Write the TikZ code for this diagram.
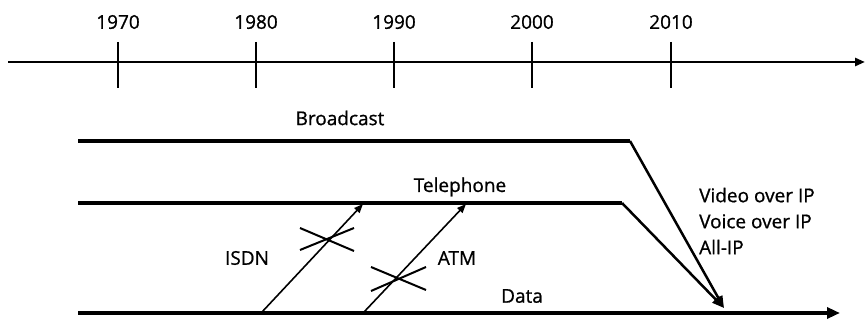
\documentclass[tikz,border=0pt]{standalone}
\usepackage{fontspec}
\setmainfont{Open Sans}
\newfontfamily\lblfont{Open Sans}[FakeBold=0.9]
\usetikzlibrary{arrows.meta}
\begin{document}
\begin{tikzpicture}[x=1pt,y=-1pt,
  lbl/.style={font=\lblfont\fontsize{19}{22}\selectfont, inner sep=0pt},
  thickline/.style={line width=3.2pt},
  axisline/.style={line width=2.6pt},
  tickline/.style={line width=1.5pt},
  thinarrow/.style={line width=1.6pt, -{Triangle[length=9pt,width=7pt]}},
  merge/.style={line width=2.5pt, -{Triangle[length=12pt,width=9pt]}},
  crossline/.style={line width=2pt}]
\useasboundingbox (0,0) rectangle (865,320);

% time axis
\coordinate (ax0) at (8,62);
\coordinate (ax1) at (865,62);
\draw[axisline, -{Triangle[length=10pt,width=8pt]}] (ax0) -- (ax1);
\foreach \yr/\x in {1970/118,1980/256,1990/394,2000/532,2010/671}{
  \coordinate (t\yr a) at (\x,42);
  \coordinate (t\yr b) at (\x,88);
  \draw[tickline] (t\yr a) -- (t\yr b);
  \node[lbl] (y\yr) at (\x,22) {\yr};
}

% service lines
\coordinate (b0) at (78,141);
\coordinate (b1) at (630,141);
\coordinate (p0) at (78,203);
\coordinate (p1) at (622,203);
\coordinate (d0) at (78,313);
\coordinate (d1) at (840,313);
\coordinate (m) at (724,308);

\draw[thickline] (b0) -- (b1);
\draw[thickline] (p0) -- (p1);
\draw[thickline, -{Triangle[length=13pt,width=11pt]}] (d0) -- (d1);
\draw[merge] (b1) -- (m);
\draw[merge] (p1) -- (m);

\node[lbl] (bc) at (340,118) {Broadcast};
\node[lbl] (tel) at (460,187) {Telephone};
\node[lbl] (dat) at (522,296) {Data};
\node[lbl] (isdn) at (247,258) {ISDN};
\node[lbl] (atm) at (457,258) {ATM};
\node[lbl, anchor=west, align=left, font=\lblfont\fontsize{19}{26}\selectfont] (ip) at (699,221)
  {Video over IP\\Voice over IP\\All-IP};

% failed migrations
\coordinate (i0) at (262,312);
\coordinate (i1) at (363,204);
\coordinate (a0) at (364,312);
\coordinate (a1) at (466,204);
\draw[thinarrow] (i0) -- (i1);
\draw[thinarrow] (a0) -- (a1);

\coordinate (ic1) at (300,228);
\coordinate (ic2) at (354,251);
\coordinate (ic3) at (300,250);
\coordinate (ic4) at (354,228);
\draw[crossline] (ic1) -- (ic2);
\draw[crossline] (ic3) -- (ic4);

\coordinate (ac1) at (371,267);
\coordinate (ac2) at (426,290);
\coordinate (ac3) at (371,291);
\coordinate (ac4) at (426,267);
\draw[crossline] (ac1) -- (ac2);
\draw[crossline] (ac3) -- (ac4);
\end{tikzpicture}
\end{document}
